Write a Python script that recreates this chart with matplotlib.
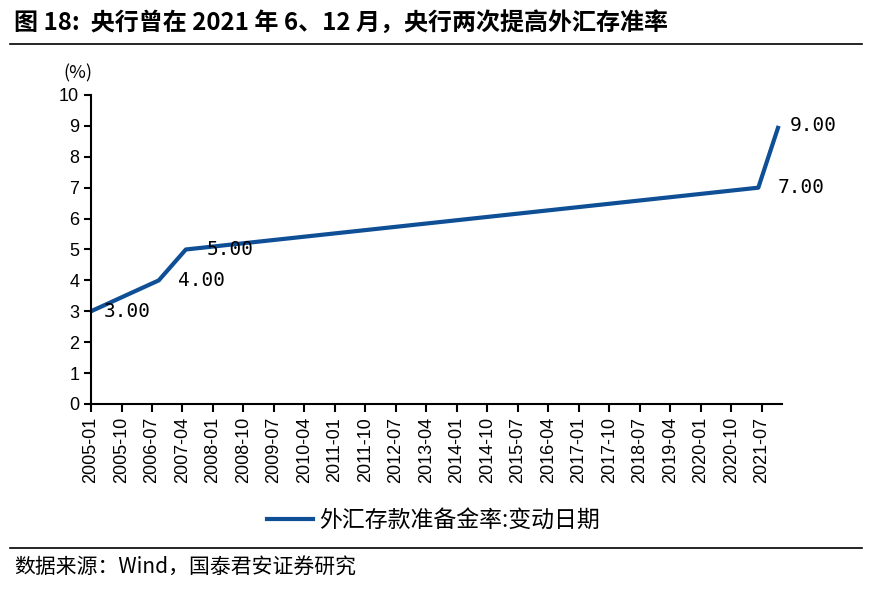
import matplotlib.pyplot as plt
from matplotlib.lines import Line2D

plt.rcParams['font.family'] = ['Liberation Sans', 'Noto Sans CJK SC', 'DejaVu Sans']

# change dates and reserve ratio (%)
change_dates = ["2005-01", "2006-09", "2007-05", "2021-06", "2021-12"]
ratio = [3.00, 4.00, 5.00, 7.00, 9.00]
tick_start = "2005-01"
tick_step = 9
tick_count = 23
series_name = "外汇存款准备金率:变动日期"
title = "图 18:  央行曾在 2021 年 6、12 月，央行两次提高外汇存准率"
source = "数据来源：Wind，国泰君安证券研究"

# label offsets in points (x) for each data label
label_dx = [9, 14, 15, 14, 8]


def month_index(s):
    y, m = s.split("-")
    y0, m0 = tick_start.split("-")
    return (int(y) - int(y0)) * 12 + int(m) - int(m0)


def month_label(i):
    y0, m0 = tick_start.split("-")
    t = int(y0) * 12 + int(m0) - 1 + i
    return f"{t // 12}-{t % 12 + 1:02d}"


x = [month_index(d) for d in change_dates]
ticks = [i * tick_step for i in range(tick_count)]

fig = plt.figure(figsize=(8.76, 5.9), dpi=100)
ax = fig.add_axes([0.1039, 0.3153, 0.7888, 0.5237])

color = "#0f4f96"
ax.plot(x, ratio, color=color, linewidth=3, solid_capstyle="butt")

for xi, yi, dx in zip(x, ratio, label_dx):
    ax.annotate(f"{yi:.2f}", (xi, yi), xytext=(dx, 0), textcoords="offset points",
                va="center", ha="left", fontsize=14,
                family=["DejaVu Sans Mono"])

ax.set_xlim(0, 204)
ax.set_ylim(0, 10)
ax.set_yticks(range(0, 11))
ax.set_xticks(ticks)
ax.set_xticklabels([month_label(t) for t in ticks], rotation=90)
ax.tick_params(axis="both", labelsize=13, width=1.5, length=6, direction="out")
ax.tick_params(axis="y", length=5)
for s in ["top", "right"]:
    ax.spines[s].set_visible(False)
for s in ["left", "bottom"]:
    ax.spines[s].set_linewidth(1.5)

fig.text(0.089, 0.876, "(%)", fontsize=13, ha="center", va="center",
         family=["Noto Sans CJK SC"])

fig.legend(handles=[Line2D([], [], color=color, linewidth=3)], labels=[series_name],
           loc="center", bbox_to_anchor=(0.495, 0.118), frameon=False,
           prop={"family": "Noto Sans CJK SC", "size": 16.5},
           handlelength=2.0, handletextpad=0.25)

fig.text(0.016, 0.962, title, fontsize=17.3, fontweight="bold", va="center", ha="left",
         family=["Noto Sans CJK SC", "DejaVu Sans"])
fig.add_artist(Line2D([0.011, 0.984], [0.925, 0.925], color="black", linewidth=1.2))
fig.add_artist(Line2D([0.011, 0.984], [0.071, 0.071], color="black", linewidth=1.2))
fig.text(0.016, 0.037, source, fontsize=15, va="center", ha="left",
         family=["Noto Sans CJK SC", "DejaVu Sans"])

fig.savefig("out.png", dpi=100)
